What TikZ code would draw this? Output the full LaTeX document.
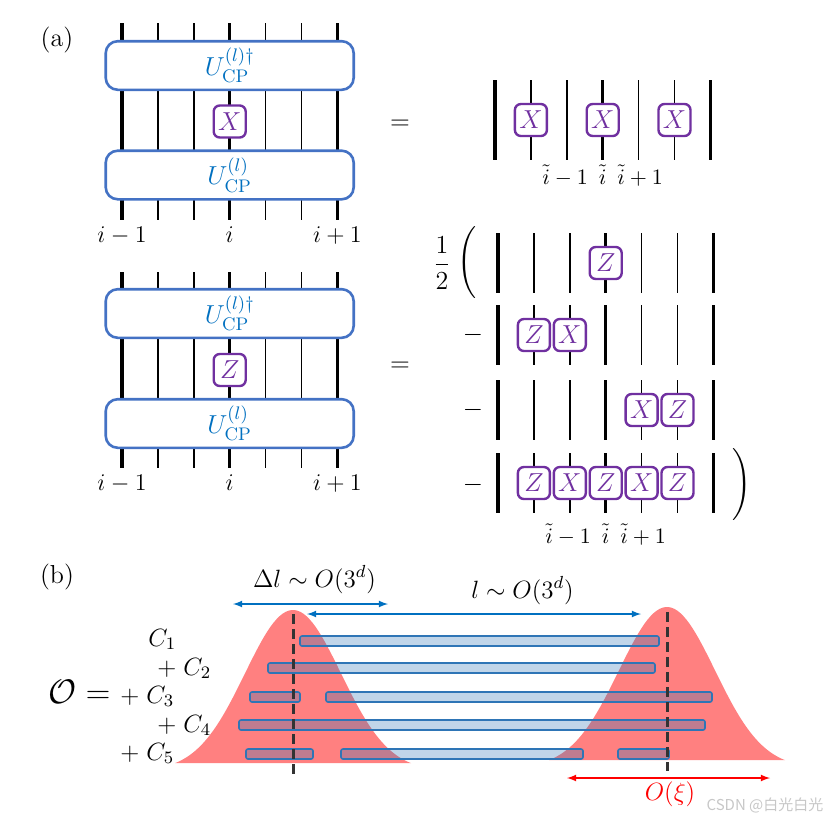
\RequirePackage{fix-cm}
\documentclass[tikz,border=0pt]{standalone}
\usepackage{amsmath}
\usepackage{fontspec}
\newfontfamily\cjk{Noto Sans CJK SC}
\usetikzlibrary{positioning}
\usetikzlibrary{calc}
\definecolor{ublue}{RGB}{68,114,196}
\definecolor{utext}{RGB}{0,112,192}
\definecolor{opurple}{RGB}{112,48,160}
\definecolor{barblue}{RGB}{46,117,182}
\definecolor{gaussred}{RGB}{255,128,128}
\definecolor{dashgray}{RGB}{51,51,51}

\begin{document}
\begin{tikzpicture}[x=0.5pt,y=-0.5pt]
            \tikzset{wire/.style={line width=0.8pt}}
            \tikzset{wirethick/.style={line width=1.6pt}}
            \tikzset{ubox/.style={draw=ublue, line width=1.3pt, rounded corners=6pt, fill=white, minimum width=124pt, minimum height=23.5pt, text=utext, font=\fontsize{13}{15}\selectfont}}
            \tikzset{opbox/.style={draw=opurple, line width=1.2pt, rounded corners=3pt, fill=white, minimum size=16pt, inner sep=0pt, text=opurple, font=\fontsize{13}{15}\selectfont}}
            \tikzset{lbl/.style={inner sep=1pt, font=\fontsize{12}{14}\selectfont}}
            \tikzset{tlbl/.style={inner sep=0pt, font=\fontsize{11}{13}\selectfont}}
            \tikzset{big/.style={font=\fontsize{13}{15}\selectfont}}
            \tikzset{blbl/.style={inner sep=0pt, font=\fontsize{12.5}{14}\selectfont}}
            \tikzset{bar/.style={draw=barblue, fill=barblue, fill opacity=0.3, line width=0.8pt, rounded corners=1pt}}
            \tikzset{peak/.style={draw=dashgray, line width=1.5pt, dash pattern=on 5pt off 2.5pt}}
            \tikzset{span/.style={<->, >=latex, line width=0.6pt}}
            \useasboundingbox (0,0) rectangle (836,821);
            \foreach \p/\x/\ya/\yb in {a/122/23/220, b/122/272/468, c/495/80/160, d/498/233/293, e/498/305/365, f/498/380/440, g/498/453/513} {
                \foreach \k in {0,...,6} {
                    \coordinate (\p t\k) at (\x+35.9*\k,\ya);
                    \coordinate (\p b\k) at (\x+35.9*\k,\yb);
                }
                \foreach \k in {1,2,4,5} \draw[wire] (\p t\k) -- (\p b\k);
                \foreach \k in {0,3,6} \draw[wirethick] (\p t\k) -- (\p b\k);
            }
            \node[ubox] (ua1) at (229.7,65.5) {$U^{(l)\dagger}_{\mathrm{CP}}$};
            \node[ubox] (ua2) at (229.7,175) {$U^{(l)}_{\mathrm{CP}}$};
            \node[ubox] (ub1) at (229.7,313.5) {$U^{(l)\dagger}_{\mathrm{CP}}$};
            \node[ubox] (ub2) at (229.7,423.5) {$U^{(l)}_{\mathrm{CP}}$};
            \node[opbox] (xa) at ($(at3)!.5!(ab3)$) {$X$};
            \node[opbox] (zb) at ($(bt3)!.5!(bb3)$) {$Z$};
            \foreach \p/\k/\o in {c/1/X, c/3/X, c/5/X, d/3/Z, e/1/Z, e/2/X, f/4/X, f/5/Z, g/1/Z, g/2/X, g/3/Z, g/4/X, g/5/Z}
                \node[opbox] (op\p\k) at ($(\p t\k)!.5!(\p b\k)$) {$\o$};
            \node[lbl, below=2pt of ab0] (la0) {$i-1$};
            \node[lbl, below=2pt of ab3] (la3) {$i$};
            \node[lbl, below=2pt of ab6] (la6) {$i+1$};
            \node[lbl, below=2pt of bb0] (lb0) {$i-1$};
            \node[lbl, below=2pt of bb3] (lb3) {$i$};
            \node[lbl, below=2pt of bb6] (lb6) {$i+1$};
            \node[tlbl, below=2pt of cb3] (lc) {$\tilde{i}-1\enspace\tilde{i}\enspace\tilde{i}+1$};
            \node[tlbl, below=5pt of gb3] (lg) {$\tilde{i}-1\enspace\tilde{i}\enspace\tilde{i}+1$};
            \node[big] (eq1) at (400,125) {$=$};
            \node[big] (eq2) at (400,367) {$=$};
            \node[big] (half) at (442,263) {$\dfrac{1}{2}$};
            \node[big] (lp) at (467,263) {$\Bigg($};
            \node[big] (rp) at (742,485) {$\Bigg)$};
            \foreach \r/\y in {e/335, f/410, g/485}
                \node[big] (m\r) at (473,\y) {$-$};
            \node[big] (pa) at (57,40) {(a)};
            \node[big] (pb) at (57,577) {(b)};
            \foreach \c/\b in {293/771, 667/768}
                \fill[gaussred] plot[domain=-118:118, samples=80] ({\c+\x},{\b-161*exp(-((\x)^2)/4608)}) -- cycle;
            \foreach \xa/\xb/\yc in {300/659/641, 268/655/668, 250/300/697, 326/712/697, 239/705/725, 246/313/754, 341/583/754, 618/669/754}
                \draw[bar] (\xa,\yc-5) rectangle (\xb,\yc+5);
            \coordinate (pl1) at (293,614);
            \coordinate (pl2) at (293,775);
            \coordinate (pr1) at (667,612);
            \coordinate (pr2) at (667,771);
            \draw[peak] (pl1) -- (pl2);
            \draw[peak] (pr1) -- (pr2);
            \coordinate (dla) at (233,604);
            \coordinate (dlb) at (388,604);
            \coordinate (lla) at (307,614);
            \coordinate (llb) at (641,614);
            \coordinate (xia) at (567,778);
            \coordinate (xib) at (770,778);
            \draw[span, utext] (dla) -- (dlb);
            \draw[span, utext] (lla) -- (llb);
            \draw[span, red] (xia) -- (xib);
            \node[blbl, anchor=base] (dl) at (314.5,587) {$\Delta l\sim O(3^d)$};
            \node[blbl, anchor=base] (ll) at (522.5,598) {$l\sim O(3^d)$};
            \node[blbl, anchor=base, red] (oxi) at (670,800) {$O(\xi)$};
            \node[blbl, anchor=base west] (c1) at (148,646) {$C_1$};
            \node[blbl, anchor=base west] (c2) at (157,675) {$+\;C_2$};
            \node[blbl, anchor=base west, font=\fontsize{17}{19}\selectfont] (obs) at (48,703) {$\mathcal{O}=$};
            \node[blbl, anchor=base west] (c3) at (120,703) {$+\;C_3$};
            \node[blbl, anchor=base west] (c4) at (157,732) {$+\;C_4$};
            \node[blbl, anchor=base west] (c5) at (120,760) {$+\;C_5$};
            \node[inner sep=0pt, text=black!22, font=\cjk\fontsize{7.5}{8}\selectfont] (wm) at (765,805) {CSDN @白光白光};
        \end{tikzpicture}
\end{document}
